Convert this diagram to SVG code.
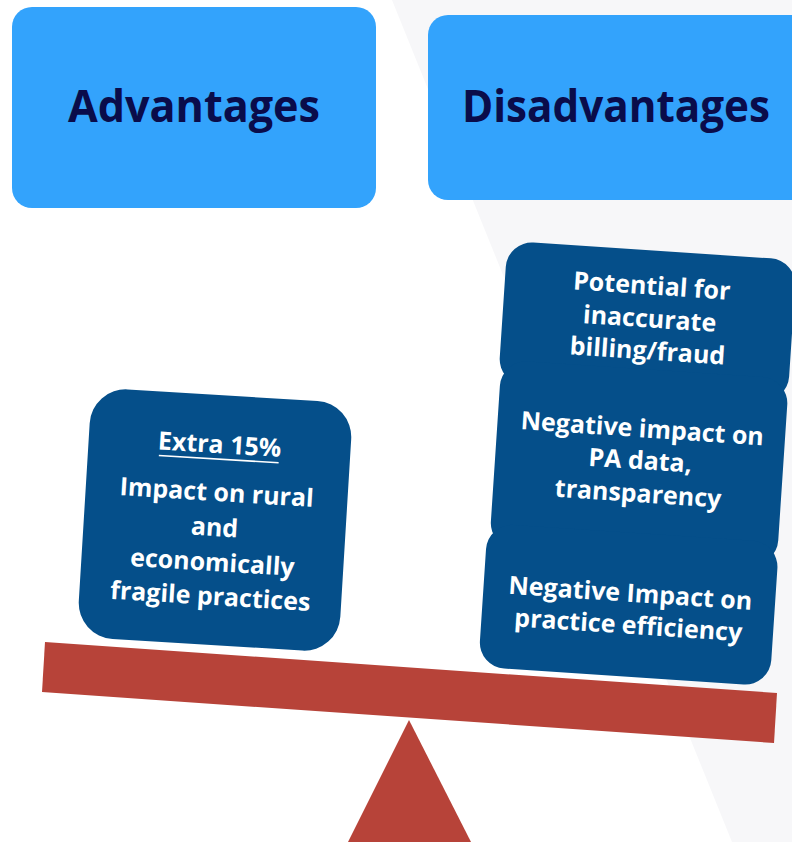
<svg xmlns="http://www.w3.org/2000/svg" width="792" height="842" viewBox="0 0 792 842">
  <style>
    .head { fill: #33a3fc; }
    .head-text { font-family: "Open Sans", "Liberation Sans", sans-serif; font-weight: 700; font-size: 44px; fill: #0a0c4a; text-anchor: middle; }
    .card { fill: #054f8a; }
    .card-text { font-family: "Open Sans", "Liberation Sans", sans-serif; font-weight: 700; font-size: 25px; fill: #ffffff; text-anchor: middle; }
    .scale { fill: #b74339; }
  </style>

  <!-- page background with faint diagonal panel -->
  <rect x="0" y="0" width="792" height="842" fill="#ffffff"/>
  <polygon points="392,0 792,0 792,842 732,842" fill="#f7f7f9"/>

  <!-- column headers -->
  <g id="advantages">
    <rect class="head" x="12" y="7" width="364" height="201" rx="20"/>
    <text class="head-text" x="194" y="122" textLength="252" lengthAdjust="spacingAndGlyphs">Advantages</text>
  </g>
  <g id="disadvantages">
    <!-- header runs off the right page edge, so only the left corners are rounded -->
    <path class="head" d="M448,15 H792 V200 H448 A20,20 0 0 1 428,180 V35 A20,20 0 0 1 448,15 Z"/>
    <text class="head-text" x="616" y="122" font-size="42" textLength="308" lengthAdjust="spacingAndGlyphs">Disadvantages</text>
  </g>

  <!-- balance: beam and fulcrum -->
  <g id="beam">
    <polygon class="scale" points="45,642 777,693 774,743 42,692"/>
  </g>
  <g id="fulcrum">
    <polygon class="scale" points="409,720 471,842 348,842"/>
  </g>

  <!-- advantage card resting on left side -->
  <g id="extra-15" transform="rotate(3.5 215 520)">
    <rect class="card" x="84" y="395" width="262" height="250" rx="36"/>
    <text class="card-text" x="215" y="453" font-size="23">Extra 15%</text>
    <line x1="155" y1="459" x2="275" y2="459" stroke="#ffffff" stroke-width="1.6"/>
    <text class="card-text" x="215" y="501">Impact on rural</text>
    <text class="card-text" x="215" y="536">and</text>
    <text class="card-text" x="215" y="571">economically</text>
    <text class="card-text" x="215" y="605">fragile practices</text>
  </g>

  <!-- stacked disadvantage cards on right side -->
  <g id="billing-fraud" transform="rotate(3.8 638 464)">
    <rect class="card" x="493" y="250" width="290" height="143" rx="26"/>
    <text class="card-text" x="640" y="294">Potential for</text>
    <text class="card-text" x="640" y="327">inaccurate</text>
    <text class="card-text" x="640" y="359">billing/fraud</text>
  </g>
  <g id="pa-data" transform="rotate(3.8 638 464)">
    <rect class="card" x="495" y="369" width="288" height="188" rx="26"/>
    <text class="card-text" x="640" y="437">Negative impact on</text>
    <text class="card-text" x="640" y="469">PA data,</text>
    <text class="card-text" x="640" y="502">transparency</text>
  </g>
  <g id="practice-efficiency" transform="rotate(3.8 638 464)">
    <rect class="card" x="492" y="533" width="292" height="144" rx="26"/>
    <text class="card-text" x="639" y="602">Negative Impact on</text>
    <text class="card-text" x="639" y="634">practice efficiency</text>
  </g>
</svg>
